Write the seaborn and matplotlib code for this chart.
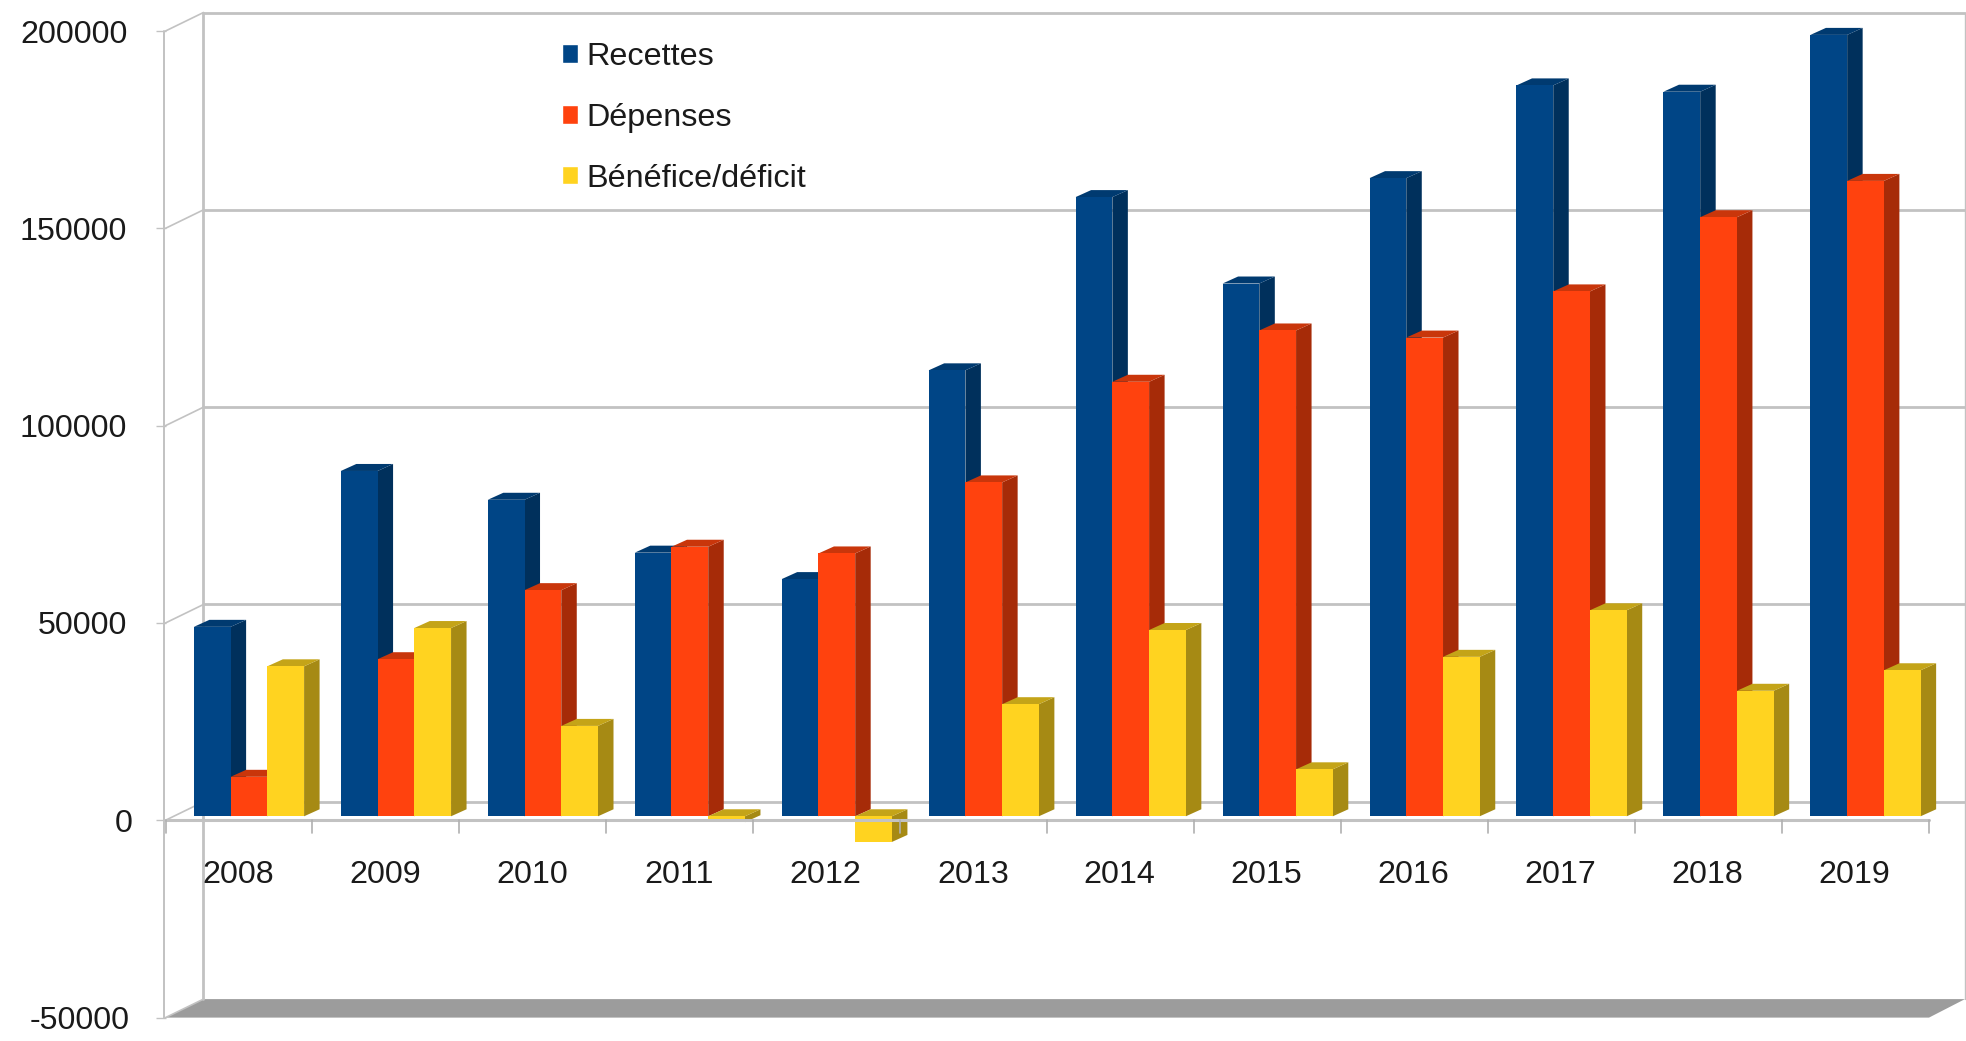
import numpy as np
import pandas as pd
import matplotlib
matplotlib.use("Agg")
import matplotlib.pyplot as plt
from matplotlib.patches import Polygon
from matplotlib.transforms import Affine2D
import seaborn as sns

years = ["2008", "2009", "2010", "2011", "2012", "2013", "2014", "2015", "2016", "2017", "2018", "2019"]
recettes = [48000, 87500, 80200, 66800, 60100, 113000, 156900, 135000, 161700, 185200, 183600, 198000]
depenses = [10000, 39800, 57300, 68300, 66600, 84600, 110100, 123100, 121300, 133000, 151800, 161000]
benefice = [38000, 47700, 22900, -1500, -6500, 28400, 47200, 11900, 40400, 52200, 31800, 37000]
series_names = ["Recettes", "Dépenses", "Bénéfice/déficit"]
colors = ["#004586", "#ff420e", "#ffd320"]
side_colors = ["#00305c", "#a62b08", "#a68a14"]
lid_colors = ["#003a70", "#c9360b", "#c4a418"]
y_ticks = [-50000, 0, 50000, 100000, 150000, 200000]

W, H = 1966, 1041
GRID = "#c2c2c2"
TEXT = "#1a1a1a"

sns.set_theme(style="white")
plt.rcParams["font.family"] = ["Liberation Sans", "DejaVu Sans"]

df = pd.DataFrame({"year": years * 3,
                   "value": recettes + depenses + benefice,
                   "serie": [s for s in series_names for _ in years]})

fig = plt.figure(figsize=(W / 100, H / 100), dpi=100)
# axes = the front plane of the fake 3d box
left, right, y_bot, y_top = 165.5, 1929, 1017.6, 31
ax = fig.add_axes([left / W, 1 - y_bot / H, (right - left) / W, (y_bot - y_top) / H])

sns.barplot(data=df, x="year", y="value", hue="serie", hue_order=series_names,
            palette=colors, width=0.75, gap=0, dodge=True, saturation=1, ax=ax)
ax.set_xlim(-0.5, 11.5)
ax.set_ylim(-50000, 200000)
for s in ax.spines.values():
    s.set_visible(False)
ax.set_xlabel("")
ax.set_ylabel("")

px_x = 1 / ((right - left) / 12)
px_y = 250000 / (y_bot - y_top)


def shifted(dx, dy):
    # offset in figure pixels, y up
    return ax.transData + Affine2D().translate(dx, dy)


# walls and floor
back = shifted(38, 18.5)
floor = Polygon([(-0.5, -50000), (11.5, -50000), (11.5 + 36 * px_x, -50000 + 18.5 * px_y),
                 (-0.5 + 38 * px_x, -50000 + 18.5 * px_y)],
                closed=True, fc="#9c9c9c", ec="none", zorder=1, clip_on=False)
ax.add_patch(floor)
for t in y_ticks[1:]:
    ax.plot([-0.5, 11.5 - 2 * px_x], [t, t], color=GRID, lw=2.0, transform=back, clip_on=False, zorder=1.5)
    ax.plot([-0.5, -0.5 + 38 * px_x], [t, t + 18.5 * px_y], color=GRID, lw=1.2, clip_on=False, zorder=1.5)
ax.plot([-0.5, -0.5 + 38 * px_x], [-50000, -50000 + 18.5 * px_y], color=GRID, lw=1.2, clip_on=False, zorder=1.5)
ax.plot([-0.5, -0.5], [-50000, 200000], color=GRID, lw=2.0, transform=back, clip_on=False, zorder=1.5)
ax.plot([11.5 - 2 * px_x] * 2, [-50000, 200000], color=GRID, lw=1.0, transform=back, clip_on=False, zorder=1.5)
ax.plot([-0.5 - 2 * px_x] * 2, [-50000, 200000], color=GRID, lw=1.4, clip_on=False, zorder=1.5)

# side and lid of each bar, built from the bars seaborn drew
bar_tf = shifted(10, 4)
depth_x, depth_y = 15.5 * px_x, 7 * px_y
for k, cont in enumerate(ax.containers):
    z = 3 + k
    for b in cont:
        x0, x1 = b.get_x(), b.get_x() + b.get_width()
        lo, hi = sorted([b.get_y(), b.get_y() + b.get_height()])
        b.set_transform(bar_tf)
        b.set_zorder(z)
        b.set_linewidth(0)
        b.set_clip_on(False)
        ax.add_patch(Polygon([(x1, lo), (x1 + depth_x, lo + depth_y), (x1 + depth_x, hi + depth_y), (x1, hi)],
                             fc=side_colors[k], ec="none", transform=bar_tf, zorder=z - 0.5, clip_on=False))
        ax.add_patch(Polygon([(x0, hi), (x1, hi), (x1 + depth_x, hi + depth_y), (x0 + depth_x, hi + depth_y)],
                             fc=lid_colors[k], ec="none", transform=bar_tf, zorder=z - 0.5, clip_on=False))

# front x axis
ax.plot([-0.5, 11.5], [0, 0], color=GRID, lw=2.2, zorder=10, clip_on=False)
for i in range(13):
    ax.plot([i - 0.5] * 2, [0, -13 * px_y], color="#b0b0b0", lw=1.2, zorder=10, clip_on=False)

ax.set_yticks(y_ticks)
ax.set_yticklabels([str(t) for t in y_ticks])
ax.tick_params(axis="y", left=True, length=7.5, width=1.0, color=GRID, pad=20, labelsize=23.2, labelcolor=TEXT)
ax.set_xticks([])

# labels of 0 and -50000 sit a bit further right in the original
for lab, t in zip(ax.get_yticklabels(), y_ticks):
    if t == 0:
        lab.set_transform(lab.get_transform() + Affine2D().translate(5, 0))
    elif t == -50000:
        lab.set_transform(lab.get_transform() + Affine2D().translate(2, 0))

# year labels sit under the zero line, not under the floor
for i, y in enumerate(years):
    ax.text(i, 0, y, transform=shifted(-1, -55), ha="center", va="center", fontsize=23.2,
            color=TEXT, zorder=11, clip_on=False)

ax.legend(loc="upper left", bbox_to_anchor=(546 / W, 1 - 26 / H), bbox_transform=fig.transFigure,
          frameon=False, fontsize=23.3, handlelength=0.5, handleheight=0.5, handletextpad=0.24,
          labelspacing=0.95, borderpad=0, title=None, labelcolor=TEXT)

fig.savefig("out.png", dpi=100)
